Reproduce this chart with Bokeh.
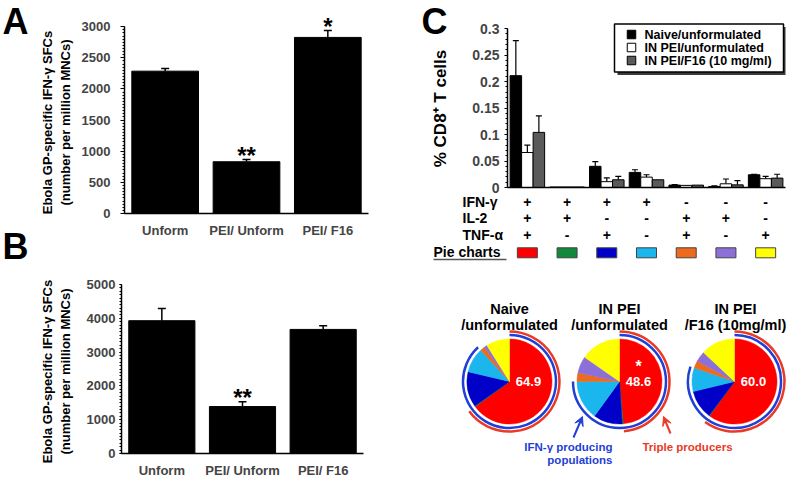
import numpy as np
from bokeh.plotting import figure
from bokeh.layouts import row, column
from bokeh.models import (FactorRange, Range1d, FixedTicker, Whisker, TeeHead,
                          ColumnDataSource, Arrow, VeeHead)
from bokeh.core.properties import value
from bokeh.embed import file_html
from bokeh.resources import INLINE

FONT = "Liberation Sans"

# ---------------- data ----------------
a_cats = ["Unform", "PEI/ Unform", "PEI/ F16"]
a_vals = [2286, 831, 2828]
a_errs = [41, 36, 113]
a_sig = ["", "**", "*"]
a_ticks = [0, 500, 1000, 1500, 2000, 2500, 3000]

b_cats = ["Unform", "PEI/ Unform", "PEI/ F16"]
b_vals = [3929, 1389, 3671]
b_errs = [364, 145, 110]
b_sig = ["", "**", ""]
b_ticks = [0, 1000, 2000, 3000, 4000, 5000]

ylab_ab = ["Ebola GP-specific IFN-\u03b3 SFCs", "(number per million MNCs)"]

c_series = ["Naive/unformulated", "IN PEI/unformulated", "IN PEI/F16 (10 mg/ml)"]
c_colors = ["black", "white", "#5a5a5a"]
c_naive = [0.211, 0.001, 0.040, 0.0285, 0.0045, 0.002, 0.024]
c_naive_err = [0.066, 0.0, 0.009, 0.005, 0.001, 0.001, 0.001]
c_pei = [0.066, 0.001, 0.011, 0.0196, 0.004, 0.007, 0.0166]
c_pei_err = [0.014, 0.0, 0.007, 0.0045, 0.0, 0.009, 0.0045]
c_f16 = [0.104, 0.001, 0.0146, 0.0146, 0.0045, 0.005, 0.0177]
c_f16_err = [0.031, 0.0, 0.0065, 0.0, 0.0, 0.008, 0.0073]
c_ticks = [0, 0.05, 0.1, 0.15, 0.2, 0.25, 0.3]
c_tick_labels = ["0", "0.05", "0.1", "0.15", "0.2", "0.25", "0.3"]
c_ylabel = "% CD8\u207a T cells"

row_names = ["IFN-\u03b3", "IL-2", "TNF-\u03b1"]
ifng = ["+", "+", "+", "+", "-", "-", "-"]
il2 = ["+", "+", "-", "-", "+", "+", "-"]
tnfa = ["+", "-", "+", "-", "+", "-", "+"]
pie_row_label = "Pie charts"
pie_colors = ["#ff0000", "#12883a", "#0000c8", "#1cb6ee", "#ee6a1c", "#8c70d8", "#ffff00"]

pie_title1 = ["Naive", "IN PEI", "IN PEI"]
pie_title2 = ["/unformulated", "/unformulated", "/F16 (10mg/ml)"]
pie_naive = [64.9, 0.3, 13.5, 9.5, 1.7, 1.2, 8.9]
pie_pei = [48.6, 0.4, 11.0, 15.0, 3.3, 6.4, 15.3]
pie_f16 = [60.0, 0.2, 11.0, 9.0, 2.8, 4.0, 13.0]
pie_values = ["64.9", "48.6", "60.0"]
pie_marks = ["", "*", ""]
ann_blue = ["IFN-\u03b3 producing", "populations"]
ann_red = "Triple producers"
letters = ["A", "B", "C"]

BLUE = "#1f3fd6"
RED = "#ea3a26"

# ---------------- helpers ----------------
def base_fig(**kw):
    p = figure(output_backend="svg", toolbar_location=None, **kw)
    p.outline_line_color = None
    p.xgrid.visible = False
    p.ygrid.visible = False
    p.frame_align = False
    return p


def side_fig(W, H):
    return base_fig(x_range=Range1d(0, W), y_range=Range1d(0, H), width=W, height=H,
                    min_border=0, x_axis_location=None, y_axis_location=None)


def bold(size, **kw):
    d = dict(text_font=value(FONT), text_font_style="bold", text_font_size=size)
    d.update(kw)
    return d


def bar_panel(cats, vals, errs, sig, ticks, minor_step, y_top, W, H, left, right, top,
              bottom, tick_standoff, tick_out):
    p = base_fig(x_range=FactorRange(*cats), y_range=Range1d(0, y_top), width=W, height=H,
                 min_border_left=left, min_border_right=right, min_border_top=top,
                 min_border_bottom=bottom)
    upper = [v + e for v, e in zip(vals, errs)]
    src = ColumnDataSource(dict(x=cats, top=vals, upper=upper, sig=sig))
    p.vbar(x="x", top="top", width=0.82, source=src, fill_color="black", line_color="black")
    p.add_layout(Whisker(base="x", lower="top", upper="upper", source=src, line_color="black",
                         line_width=1.5, lower_head=None,
                         upper_head=TeeHead(size=8, line_color="black", line_width=1.5)))
    p.text(x="x", y="upper", text="sig", source=src, text_align="center",
           text_baseline="alphabetic", y_offset=-4, **bold("24px"))
    ya = p.yaxis[0]
    ya.ticker = FixedTicker(ticks=ticks, minor_ticks=list(np.arange(0, ticks[-1] + 1, minor_step)))
    ya.bounds = (0, ticks[-1])
    ya.major_label_text_font = FONT
    ya.major_label_text_font_style = "bold"
    ya.major_label_text_font_size = "13px"
    ya.major_label_standoff = tick_standoff
    ya.major_tick_out = tick_out
    ya.major_tick_in = 0
    ya.minor_tick_out = 2
    ya.minor_tick_in = 0
    ya.axis_line_width = 1.5
    xa = p.xaxis[0]
    xa.major_tick_line_color = None
    xa.minor_tick_line_color = None
    xa.major_label_text_font = FONT
    xa.major_label_text_font_style = "bold"
    xa.major_label_text_font_size = "13px"
    xa.major_label_standoff = 3
    xa.axis_line_width = 1.5
    return p


def left_strip(W, H, letter, letter_top, title_center):
    s = side_fig(W, H)
    s.text(x=[2], y=[H - letter_top], text=[letter], text_align="left",
           text_baseline="top", **bold("36px"))
    s.text(x=[46.5, 64.5], y=[H - title_center] * 2, text=ylab_ab, angle=np.pi / 2,
           text_align="center", text_baseline="middle", **bold("13px"))
    return s


# ---------------- panel A / B ----------------
SW = 74
lA = left_strip(SW, 225, letters[0], 0, 122)
lB = left_strip(SW, 255, letters[1], 0, 146)
pA = bar_panel(a_cats, a_vals, a_errs, a_sig, a_ticks, 50, 3421, 400 - SW, 240, 50, 32, 0,
               19, 10, 4)
pB = bar_panel(b_cats, b_vals, b_errs, b_sig, b_ticks, 100, 5000, 400 - SW, 240, 47, 37, 44,
               17, 4, 2)

# ---------------- panel C bars ----------------
RW = 386
LCW = 48
CT_H = 194
C_LEFT, C_RIGHT, C_TOP, C_BOTTOM = 59, 1, 20, 7
n = len(ifng)
gx = np.arange(n)
x0, x1 = -0.5, n - 0.5
FW = RW - LCW - C_LEFT - C_RIGHT          # frame width in px
FH = CT_H - C_TOP - C_BOTTOM              # frame height in px
ppg = FW / (x1 - x0)
c_ytop = 0.3 * FH / 159.0
ppu = FH / c_ytop
FL = 400 + LCW + C_LEFT                   # frame left (page px)
FB = C_TOP + FH                           # frame bottom (page px)


def FX(px):
    return x0 + (px - FL) / ppg


def FY(py):
    return (FB - py) / ppu


pc = base_fig(x_range=Range1d(x0, x1), y_range=Range1d(0, c_ytop), width=RW - LCW,
              height=CT_H, min_border_left=C_LEFT, min_border_right=C_RIGHT,
              min_border_top=C_TOP, min_border_bottom=C_BOTTOM)

bw = 0.29
series = [(c_naive, c_naive_err), (c_pei, c_pei_err), (c_f16, c_f16_err)]
for k, (vals, errs) in enumerate(series):
    off = (k - 1) * bw
    vals = np.array(vals)
    errs = np.array(errs)
    src = ColumnDataSource(dict(x=gx + off, top=vals))
    pc.vbar(x="x", top="top", width=bw, source=src, fill_color=c_colors[k],
            line_color="black", line_width=1)
    m = errs > 0
    wsrc = ColumnDataSource(dict(x=(gx + off)[m], lo=vals[m], hi=(vals + errs)[m]))
    pc.add_layout(Whisker(base="x", lower="lo", upper="hi", source=wsrc, line_color="black",
                          line_width=1.2, lower_head=None,
                          upper_head=TeeHead(size=6, line_color="black", line_width=1.2)))

# legend box with drop shadow (drawn as glyphs)
LB_L, LB_R, LB_T, LB_B, SH = 614, 783, 23.5, 71.5, 3
lw, lh = LB_R - LB_L, LB_B - LB_T
pc.rect(x=[FX((LB_L + LB_R) / 2 + SH)], y=[FY((LB_T + LB_B) / 2 + SH)], width=lw, height=lh,
        width_units="screen", height_units="screen", fill_color="#3a3a3a", line_color=None)
pc.rect(x=[FX((LB_L + LB_R) / 2)], y=[FY((LB_T + LB_B) / 2)], width=lw, height=lh,
        width_units="screen", height_units="screen", fill_color="white", line_color="black",
        line_width=1.5)
leg_y = [FY(34), FY(47), FY(60)]
pc.rect(x=[FX(631)] * 3, y=leg_y, width=8.5, height=8.5, width_units="screen",
        height_units="screen", fill_color=c_colors, line_color="black", line_width=1)
pc.text(x=[FX(644)] * 3, y=leg_y, text=c_series, text_align="left", text_baseline="middle",
        **bold("12.5px"))

ya = pc.yaxis[0]
ya.ticker = FixedTicker(ticks=c_ticks, minor_ticks=list(np.arange(0, 0.3001, 0.01)))
ya.major_label_overrides = dict(zip(c_ticks, c_tick_labels))
ya.bounds = (0, 0.3)
ya.major_label_text_font = FONT
ya.major_label_text_font_style = "bold"
ya.major_label_text_font_size = "14px"
ya.major_label_standoff = 5
ya.major_tick_out = 3
ya.major_tick_in = 0
ya.minor_tick_out = 2
ya.minor_tick_in = 0
ya.axis_line_width = 1.5
xa = pc.xaxis[0]
xa.ticker = FixedTicker(ticks=[])
xa.major_label_text_font_size = "0px"
xa.major_tick_line_color = None
xa.minor_tick_line_color = None
xa.major_label_standoff = 0
xa.axis_line_width = 1.5

lC = side_fig(LCW, CT_H)
lC.text(x=[21], y=[CT_H], text=[letters[2]], text_align="left",
        text_baseline="top", **bold("36px"))
lC.text(x=[39.5], y=[CT_H - 108], text=[c_ylabel], angle=np.pi / 2, text_align="center",
        text_baseline="middle", **bold("17px"))

# ---------------- panel C table ----------------
TH = 76
tx0 = x0 - (LCW + C_LEFT) / ppg
tx1 = x1 + C_RIGHT / ppg


def colx(c):
    return tx0 + c / ppg


pt = base_fig(x_range=Range1d(tx0, tx1), y_range=Range1d(TH, 0), width=RW, height=TH,
              min_border=0, x_axis_location=None, y_axis_location=None)
row_y = [7.5, 23.5, 40.5]
tfont = bold("14px", text_baseline="middle")
pt.text(x=[colx(62)] * 3, y=row_y, text=row_names, text_align="left", **tfont)
for yy, signs in zip(row_y, [ifng, il2, tnfa]):
    pt.text(x=gx, y=[yy] * n, text=signs, text_align="center", **tfont)
pt.text(x=[colx(33)], y=[57.5], text=[pie_row_label], text_align="left", **tfont)
pt.segment(x0=[colx(33)], x1=[colx(106)], y0=[65], y1=[65], line_color="#555555", line_width=1.5)
pt.rect(x=gx, y=[58.3] * n, width=20, height=10, width_units="screen", height_units="screen",
        fill_color=pie_colors, line_color="#444444", line_width=1)

# ---------------- panel C pies ----------------
PH = 210
pp = base_fig(x_range=Range1d(0, RW), y_range=Range1d(0, PH), width=RW, height=PH,
              min_border=0, x_axis_location=None, y_axis_location=None)


def Y(ref_y):
    return PH - (ref_y - 270)


centers_x = [109, 219, 334]
title_x = [109, 219, 335]
cy = Y(381)
for i, pct in enumerate([pie_naive, pie_pei, pie_f16]):
    pct = np.array(pct, dtype=float)
    frac = pct / pct.sum()
    ends = np.cumsum(frac)
    starts = ends - frac
    sa = np.pi / 2 - 2 * np.pi * starts
    ea = np.pi / 2 - 2 * np.pi * ends
    pp.wedge(x=[centers_x[i]] * len(pct), y=[cy] * len(pct), radius=42.5,
             radius_units="screen", start_angle=sa, end_angle=ea, direction="clock",
             fill_color=pie_colors, line_color=pie_colors, line_width=0.5)
    ifn_end = ends[3]
    pp.arc(x=[centers_x[i]], y=[cy], radius=46.5, radius_units="screen",
           start_angle=[np.pi / 2], end_angle=[np.pi / 2 - 2 * np.pi * ifn_end],
           direction="clock", line_color=BLUE, line_width=2.5)
    pp.arc(x=[centers_x[i]], y=[cy], radius=50, radius_units="screen",
           start_angle=[np.pi / 2], end_angle=[np.pi / 2 - 2 * np.pi * ends[0]],
           direction="clock", line_color=RED, line_width=2.5)

pfont = dict(text_align="center", text_baseline="middle")
pp.text(x=title_x, y=[Y(308)] * 3, text=pie_title1, **bold("14.5px"), **pfont)
pp.text(x=title_x, y=[Y(324.5)] * 3, text=pie_title2, **bold("14.5px"), **pfont)
pp.text(x=[c + 19 for c in centers_x], y=[cy] * 3, text=pie_values, text_color="white",
        **bold("13px"), **pfont)
pp.text(x=[c + 19 for c in centers_x], y=[Y(366)] * 3, text=pie_marks, text_color="white",
        **bold("16px"), **pfont)

pp.add_layout(Arrow(x_start=173, y_start=Y(437), x_end=182, y_end=Y(416), line_color=BLUE,
                    line_width=2, end=VeeHead(size=9, fill_color=BLUE, line_color=BLUE)))
pp.add_layout(Arrow(x_start=270, y_start=Y(433), x_end=263, y_end=Y(416), line_color=RED,
                    line_width=2, end=VeeHead(size=9, fill_color=RED, line_color=RED)))
afont = bold("11.5px", text_baseline="middle")
pp.text(x=[212, 212], y=[Y(446), Y(459)], text=ann_blue, text_color=BLUE, text_align="right",
        **afont)
pp.text(x=[287], y=[Y(446)], text=[ann_red], text_color=RED, text_align="center", **afont)

layout = row(column(lA, lB), column(pA, pB), column(row(lC, pc), pt, pp))
open("out.html", "w").write(file_html(layout, INLINE))
